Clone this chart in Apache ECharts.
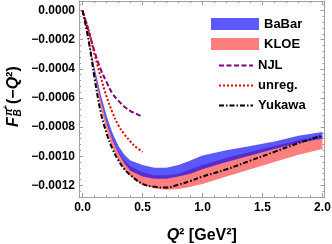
<!DOCTYPE html>
<html><head><meta charset="utf-8">
<script src="https://cdn.jsdelivr.net/npm/echarts@6/dist/echarts.min.js"></script>
<style>html,body{margin:0;padding:0;background:#fff}#c{width:332px;height:244px}</style>
</head><body><div id="c"></div>
<script>
// ---- data ----
const Qb     = [0, 0.05, 0.1, 0.15, 0.2, 0.25, 0.3, 0.35, 0.4, 0.5, 0.6, 0.7, 0.8, 0.9, 1.0, 1.2, 1.4, 1.6, 1.8, 2.0];
const yukawa = [0, -0.00020, -0.00046, -0.00069, -0.00084, -0.00095, -0.00103, -0.00109, -0.00113, -0.00119, -0.00121, -0.001215, -0.001195, -0.00117, -0.00114, -0.00109, -0.00103, -0.00097, -0.00091, -0.000857];
const babarHi = [0, -0.00019, -0.00039, -0.00057, -0.00072, -0.00084, -0.00093, -0.00099, -0.00103, -0.00106, -0.00108, -0.00108, -0.00106, -0.00103, -0.000995, -0.00096, -0.00093, -0.00090, -0.00086, -0.000834];
const babarLo = [0, -0.00020, -0.00042, -0.00061, -0.00077, -0.00089, -0.00098, -0.00105, -0.00110, -0.00114, -0.001155, -0.001155, -0.00114, -0.00112, -0.00109, -0.00104, -0.000995, -0.00095, -0.00091, -0.00088];
const kloeHi  = [0, -0.00020, -0.00041, -0.00060, -0.00076, -0.00088, -0.00097, -0.00103, -0.00107, -0.00111, -0.00113, -0.00113, -0.00112, -0.00109, -0.00106, -0.00101, -0.00097, -0.00093, -0.00089, -0.00086];
const kloeLo  = [0, -0.00021, -0.00045, -0.00066, -0.00082, -0.00094, -0.00103, -0.00109, -0.00114, -0.00120, -0.00122, -0.00123, -0.001225, -0.00121, -0.00119, -0.00114, -0.00109, -0.00104, -0.00099, -0.00095];
const Qs    = [0, 0.05, 0.1, 0.15, 0.2, 0.25, 0.3, 0.35, 0.4, 0.45, 0.5];
const njl   = [0, -0.00014, -0.00028, -0.00040, -0.00049, -0.00057, -0.00062, -0.00066, -0.00069, -0.00071, -0.00073];
const unreg = [0, -0.00013, -0.00030, -0.00045, -0.00059, -0.00070, -0.00079, -0.00085, -0.00090, -0.00094, -0.00097];
const xTicks = [0, 0.5, 1.0, 1.5, 2.0];
const yTicks = [0, -0.0002, -0.0004, -0.0006, -0.0008, -0.0010, -0.0012];
const legendBands = ['BaBar', 'KLOE'];
const legendLines = ['NJL', 'unreg.', 'Yukawa'];

// ---- layout / style ----
const FONT = '"Liberation Sans", Arial, sans-serif';
const FRAME = '#a0a0a0';
const XMIN = -0.029, XMAX = 2.017, YMIN = -0.00128, YMAX = 0.000065;
const xMinor = [], yMinor = [];
for (let k = 1; k <= 20; k++) if (k % 5) xMinor.push(+(k * 0.1).toFixed(2));
for (let k = -31; k <= 1; k++) if (k % 5) yMinor.push(+(k * 0.00004).toFixed(6));

function pairs(xs, ys) { return xs.map((x, i) => [x, ys[i]]); }

function xAxisDef(pos, ticks, len, showLine, showLabel) {
  return {
    type: 'value', position: pos, min: XMIN, max: XMAX, offset: 0,
    axisLine: { show: showLine, onZero: false, lineStyle: { color: FRAME, width: 1 } },
    axisTick: { show: true, inside: true, length: len, customValues: ticks, lineStyle: { color: FRAME, width: 1 } },
    axisLabel: showLabel ? { show: true, customValues: ticks, margin: 5, color: '#000', fontFamily: FONT, fontWeight: 'bold', fontSize: 12,
      formatter: v => v.toFixed(1) } : { show: false },
    splitLine: { show: false }, minorTick: { show: false }
  };
}
function yAxisDef(pos, ticks, len, showLine, showLabel) {
  return {
    type: 'value', position: pos, min: YMIN, max: YMAX, offset: 0,
    axisLine: { show: showLine, onZero: false, lineStyle: { color: FRAME, width: 1 } },
    axisTick: { show: true, inside: true, length: len, customValues: ticks, lineStyle: { color: FRAME, width: 1 } },
    axisLabel: showLabel ? { show: true, customValues: ticks, margin: 4, color: '#000', fontFamily: FONT, fontWeight: 'bold', fontSize: 12,
      formatter: v => (Math.abs(v) < 1e-12 ? '0.0000' : v.toFixed(4).replace('-', '\u2212')) } : { show: false },
    splitLine: { show: false }, minorTick: { show: false }
  };
}

function bandRender(lo, hi, color) {
  return function (params, api) {
    if (params.dataIndex !== 0) return null;
    const pts = [];
    for (let i = 0; i < Qb.length; i++) pts.push(api.coord([Qb[i], hi[i]]));
    for (let i = Qb.length - 1; i >= 0; i--) pts.push(api.coord([Qb[i], lo[i]]));
    return { type: 'polygon', shape: { points: pts }, style: { fill: color } };
  };
}

const BLUE = 'rgba(0,0,255,0.65)';
const RED = 'rgba(255,0,0,0.5)';

const xAx = xAxisDef('bottom', xTicks, 4, true, true);
xAx.name = '{i|Q}\u00b2 [GeV\u00b2]';
xAx.nameLocation = 'middle';
xAx.nameGap = 31;
xAx.nameTextStyle = { color: '#000', fontFamily: FONT, fontWeight: 'bold', fontSize: 16,
  rich: { i: { color: '#000', fontFamily: FONT, fontWeight: 'bold', fontStyle: 'italic', fontSize: 16 } } };

const option = {
  animation: false,
  backgroundColor: '#fff',
  grid: { left: 79, right: 7.5, top: 1, bottom: 47, containLabel: false, outerBoundsMode: 'none' },
  xAxis: [xAx, xAxisDef('bottom', xMinor, 2, false, false), xAxisDef('top', xTicks, 4, true, false), xAxisDef('top', xMinor, 2, false, false)],
  yAxis: [yAxisDef('left', yTicks, 4, true, true), yAxisDef('left', yMinor, 2, false, false), yAxisDef('right', yTicks, 4, true, false), yAxisDef('right', yMinor, 2, false, false)],
  legend: [
    { data: legendBands, orient: 'vertical', left: 206, top: 12.5, itemWidth: 48, itemHeight: 12, itemGap: 7, itemTextGap: 4,
      icon: 'rect', textStyle: { color: '#000', fontFamily: FONT, fontWeight: 'bold', fontSize: 13 }, selectedMode: false },
    { data: legendLines, orient: 'vertical', left: 213, top: 54, itemWidth: 34, itemHeight: 12, itemGap: 7, itemTextGap: 11,
      itemStyle: { opacity: 0 },
      textStyle: { color: '#000', fontFamily: FONT, fontWeight: 'bold', fontSize: 13 }, selectedMode: false }
  ],
  series: [
    { name: 'KLOE', type: 'custom', xAxisIndex: 0, yAxisIndex: 0, clip: true, z: 1,
      itemStyle: { color: RED }, renderItem: bandRender(kloeLo, kloeHi, RED),
      data: Qb.map((q, i) => [q, kloeLo[i], kloeHi[i]]), encode: { x: 0, y: [1, 2] } },
    { name: 'BaBar', type: 'custom', xAxisIndex: 0, yAxisIndex: 0, clip: true, z: 2,
      itemStyle: { color: BLUE }, renderItem: bandRender(babarLo, babarHi, BLUE),
      data: Qb.map((q, i) => [q, babarLo[i], babarHi[i]]), encode: { x: 0, y: [1, 2] } },
    { name: 'NJL', type: 'line', z: 3, data: pairs(Qs, njl), symbol: 'none', smooth: 0.4, clip: true,
      itemStyle: { color: '#800080' }, lineStyle: { color: '#800080', width: 2, type: [5, 2.5] } },
    { name: 'unreg.', type: 'line', z: 3, data: pairs(Qs, unreg), symbol: 'none', smooth: 0.4, clip: true,
      itemStyle: { color: '#e00000' }, lineStyle: { color: '#e00000', width: 2, type: [2, 2] } },
    { name: 'Yukawa', type: 'line', z: 4, data: pairs(Qb, yukawa), symbol: 'none', smooth: 0.4, clip: true,
      itemStyle: { color: '#000' }, lineStyle: { color: '#000', width: 2, type: [5, 2, 1.5, 2] } }
  ],
  graphic: [
    { type: 'group', x: 13.5, y: 100, rotation: Math.PI / 2, silent: true, children: [
      { type: 'text', style: { text: 'F', x: -22, y: 0, align: 'center', verticalAlign: 'middle', fontSize: 16, fontWeight: 'bold', fontStyle: 'italic', fontFamily: FONT, fill: '#000' } },
      { type: 'text', style: { text: '\u03c0', x: -16, y: -5, align: 'left', verticalAlign: 'middle', fontSize: 11, fontWeight: 'bold', fontStyle: 'italic', fontFamily: FONT, fill: '#000' } },
      { type: 'text', style: { text: '+', x: -9.5, y: -8, align: 'left', verticalAlign: 'middle', fontSize: 8, fontWeight: 'bold', fontFamily: FONT, fill: '#000' } },
      { type: 'text', style: { text: 'B', x: -16.5, y: 5, align: 'left', verticalAlign: 'middle', fontSize: 10, fontWeight: 'bold', fontStyle: 'italic', fontFamily: FONT, fill: '#000' } },
      { type: 'text', style: { text: '{n|(\u2212}{i|Q}{n|\u00b2)}', x: -4, y: 0, align: 'left', verticalAlign: 'middle', fontFamily: FONT, fill: '#000',
        rich: { n: { fontSize: 16, fontWeight: 'bold', fontFamily: FONT, fill: '#000' }, i: { fontSize: 16, fontWeight: 'bold', fontStyle: 'italic', fontFamily: FONT, fill: '#000' } } } }
    ] }
  ]
};
const chart = echarts.init(document.getElementById('c'));
chart.setOption(option);
</script></body></html>
